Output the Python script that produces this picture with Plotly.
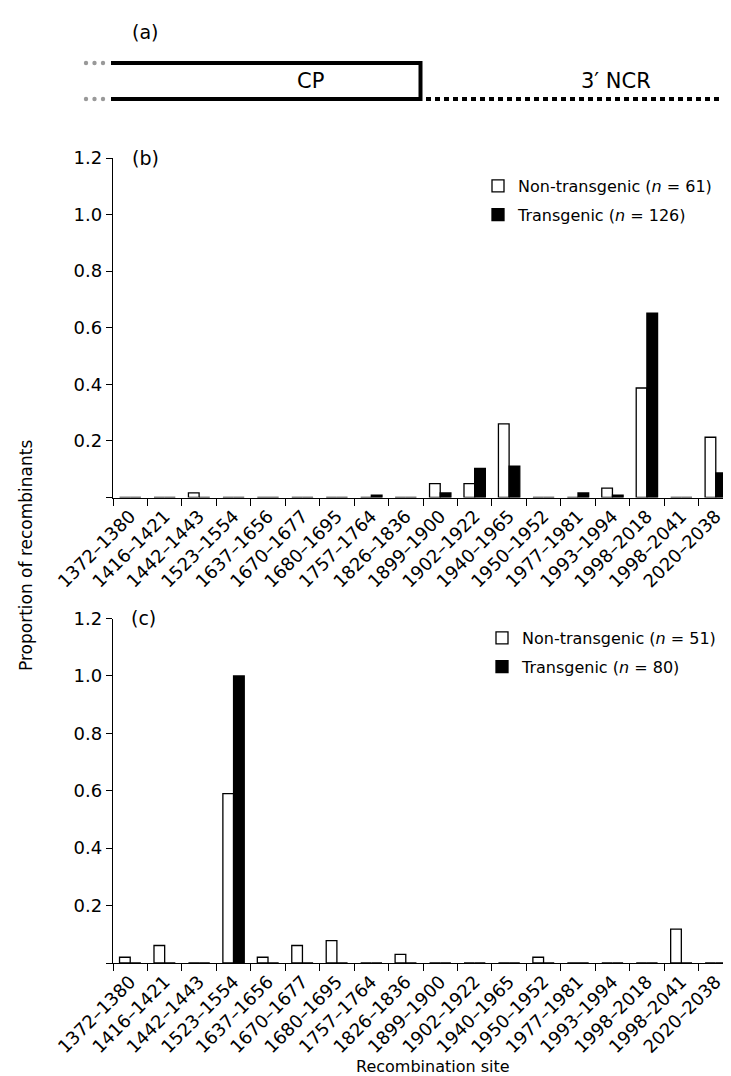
import plotly.graph_objects as go

W, H = 731, 1076

sites = ["1372–1380", "1416–1421", "1442–1443", "1523–1554", "1637–1656", "1670–1677",
         "1680–1695", "1757–1764", "1826–1836", "1899–1900", "1902–1922", "1940–1965",
         "1950–1952", "1977–1981", "1993–1994", "1998–2018", "1998–2041", "2020–2038"]

# Panel (b)
b_nontransgenic = [0, 0, 0.016, 0, 0, 0, 0, 0, 0, 0.049, 0.049, 0.26, 0, 0, 0.033, 0.387, 0, 0.213]
b_transgenic = [0, 0, 0, 0, 0, 0, 0, 0.008, 0, 0.016, 0.103, 0.111, 0, 0.016, 0.008, 0.652, 0, 0.087]

# Panel (c)
c_nontransgenic = [0.02, 0.061, 0, 0.59, 0.02, 0.061, 0.078, 0, 0.03, 0, 0, 0, 0.02, 0, 0, 0, 0.118, 0]
c_transgenic = [0, 0, 0, 1.0, 0, 0, 0, 0, 0, 0, 0, 0, 0, 0, 0, 0, 0, 0]

b_names = ["Non-transgenic (<i>n</i> = 61)", "Transgenic (<i>n</i> = 126)"]
c_names = ["Non-transgenic (<i>n</i> = 51)", "Transgenic (<i>n</i> = 80)"]

yticks = [0, 0.2, 0.4, 0.6, 0.8, 1.0, 1.2]
yticktext = ["", "0.2", "0.4", "0.6", "0.8", "1.0", "1.2"]

FONT = "DejaVu Sans, Liberation Sans, Arial, sans-serif"

def px(x):
    return x / W

def py(y):
    return 1 - y / H

fig = go.Figure()

def bar(y, name, color, xa, ya, lg, grp):
    return go.Bar(x=sites, y=y, name=name, xaxis=xa, yaxis=ya, legend=lg, legendgroup=grp,
                  marker=dict(color=color, line=dict(color="black", width=1.3)))

fig.add_trace(bar(b_nontransgenic, b_names[0], "white", "x", "y", "legend", "b1"))
fig.add_trace(bar(b_transgenic, b_names[1], "black", "x", "y", "legend", "b2"))
fig.add_trace(bar(c_nontransgenic, c_names[0], "white", "x2", "y2", "legend2", "c1"))
fig.add_trace(bar(c_transgenic, c_names[1], "black", "x2", "y2", "legend2", "c2"))

xdom = [px(105), px(725)]
common_x = dict(type="category", categoryorder="array", categoryarray=sites, range=[-0.5, 17.5],
                tickson="boundaries", ticks="outside", ticklen=7, tickwidth=1.3, tickcolor="black",
                showline=True, linecolor="black", linewidth=1.3, tickangle=-45, automargin=False,
                tickfont=dict(family=FONT, size=18, color="black"), showgrid=False, zeroline=False,
                fixedrange=True)
common_y = dict(range=[0, 1.2], tickvals=yticks, ticktext=yticktext, ticks="outside", ticklen=6,
                tickwidth=1.3, tickcolor="black", showline=True, linecolor="black", linewidth=1.3,
                automargin=False,
                tickfont=dict(family=FONT, size=18, color="black"), showgrid=False, zeroline=False,
                fixedrange=True)

fig.update_layout(
    template="none",
    width=W, height=H,
    margin=dict(l=0, r=0, t=0, b=0, autoexpand=False),
    paper_bgcolor="white", plot_bgcolor="white",
    barmode="group", bargap=0.38, bargroupgap=0,
    font=dict(family=FONT, size=17, color="black"),
    xaxis=dict(domain=xdom, anchor="y", **common_x),
    yaxis=dict(domain=[py(489.5), py(150)], anchor="x", **common_y),
    xaxis2=dict(domain=xdom, anchor="y2", **common_x),
    yaxis2=dict(domain=[py(955), py(610.5)], anchor="x2", **common_y),
    legend=dict(x=px(470), y=py(161), xanchor="left", yanchor="top", bgcolor="rgba(0,0,0,0)",
                font=dict(family=FONT, size=16), tracegroupgap=5, traceorder="grouped"),
    legend2=dict(x=px(474), y=py(613), xanchor="left", yanchor="top", bgcolor="rgba(0,0,0,0)",
                 font=dict(family=FONT, size=16), tracegroupgap=5, traceorder="grouped"),
    showlegend=True,
)

annotations = [
    dict(text="(a)", x=px(137), y=py(24), font=dict(size=19)),
    dict(text="(b)", x=px(137), y=py(150), font=dict(size=19)),
    dict(text="(c)", x=px(135), y=py(610), font=dict(size=19)),
    dict(text="CP", x=px(302), y=py(73), font=dict(size=21)),
    dict(text="3′ NCR", x=px(608), y=py(73), font=dict(size=21)),
    dict(text="Proportion of recombinants", x=px(18), y=py(548), textangle=-90, font=dict(size=17)),
    dict(text="Recombination site", x=px(425), y=py(1058), font=dict(size=16)),
]
for a in annotations:
    a.update(xref="paper", yref="paper", xanchor="center", yanchor="middle", showarrow=False)
fig.update_layout(annotations=annotations)

shapes = []
# schematic (a)
lw = 4
shapes.append(dict(type="line", x0=px(103), x1=px(414), y0=py(55), y1=py(55), line=dict(color="black", width=lw)))
shapes.append(dict(type="line", x0=px(103), x1=px(414), y0=py(91), y1=py(91), line=dict(color="black", width=lw)))
shapes.append(dict(type="line", x0=px(412.5), x1=px(412.5), y0=py(53), y1=py(93), line=dict(color="black", width=lw)))
shapes.append(dict(type="line", x0=px(418), x1=px(724), y0=py(91), y1=py(91),
                   line=dict(color="black", width=lw, dash="5px,4px")))
for yy in (55, 91):
    for xx in (78, 86.5, 95):
        shapes.append(dict(type="circle", x0=px(xx - 2.2), x1=px(xx + 2.2), y0=py(yy - 2.2), y1=py(yy + 2.2),
                           fillcolor="#999999", line=dict(width=0)))
for s in shapes:
    s.update(xref="paper", yref="paper")
fig.update_layout(shapes=shapes)

fig.write_html("out.html")
